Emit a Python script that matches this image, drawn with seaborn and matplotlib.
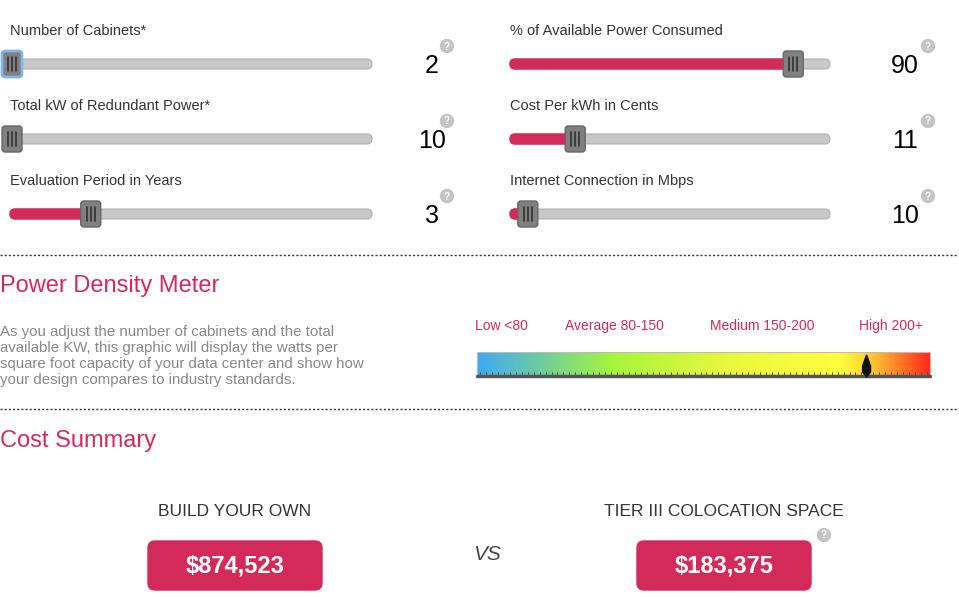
import numpy as np
import matplotlib
matplotlib.use("Agg")
import matplotlib.pyplot as plt
import seaborn as sns
from matplotlib.patches import FancyBboxPatch
from matplotlib.colors import LinearSegmentedColormap

sns.set_style("white")
plt.rcParams["font.family"] = "Liberation Sans"

# ---- data ------------------------------------------------------------------
slider_labels = ["Number of Cabinets*", "Total kW of Redundant Power*",
                 "Evaluation Period in Years", "% of Available Power Consumed",
                 "Cost Per kWh in Cents", "Internet Connection in Mbps"]
slider_values = ["2", "10", "3", "90", "11", "10"]
slider_fill = [0.0, 0.0, 0.22, 0.89, 0.20, 0.05]
meter_labels = ["Low <80", "Average 80-150", "Medium 150-200", "High 200+"]
meter_position = 0.86
cost_titles = ["BUILD YOUR OWN", "TIER III COLOCATION SPACE"]
cost_values = ["$874,523", "$183,375"]

RED = "#d42a5a"
fig = plt.figure(figsize=(9.59, 5.97), dpi=100)
ax = fig.add_axes([0, 0, 1, 1])
ax.set_xlim(0, 959); ax.set_ylim(597, 0); ax.axis("off")


def help_icon(x, y):
    ax.add_patch(plt.Circle((x, y), 6.5, color="#c4c4c4"))
    ax.text(x, y + 0.5, "?", color="white", fontsize=7, fontweight="bold",
            ha="center", va="center")


# ---- sliders ---------------------------------------------------------------
for i, (lab, val, f) in enumerate(zip(slider_labels, slider_values, slider_fill)):
    col, row = divmod(i, 3)
    x0 = 10 + col * 500
    y = 64 + row * 75
    w = 362 if col == 0 else 320
    ax.text(x0, y - 33, lab, fontsize=10.5, color="#333333", va="center")
    ax.add_patch(FancyBboxPatch((x0, y - 5), w, 10, boxstyle="round,pad=0,rounding_size=5",
                                fc="#c8c8c8", ec="#b0b0b0", lw=0.8))
    hx = x0 + 2 + f * (w - 4)
    if f > 0:
        ax.add_patch(FancyBboxPatch((x0, y - 5), hx - x0, 10,
                                    boxstyle="round,pad=0,rounding_size=5", fc=RED, ec=RED))
    ec = "#7fb8f0" if i == 0 else "#666666"
    ax.add_patch(FancyBboxPatch((hx - 10, y - 13), 20, 26, boxstyle="round,pad=0,rounding_size=3",
                                fc="#808080", ec=ec, lw=2 if i == 0 else 1))
    for dx in (-4, 0, 4):
        ax.plot([hx + dx, hx + dx], [y - 7, y + 7], color="#333333", lw=1.2)
    vx = 432 if col == 0 else 905
    ax.text(vx, y + 2, val, fontsize=18, color="black", ha="center", va="center")
    help_icon(447 if col == 0 else 928, y - 18)

# ---- dashed separators -----------------------------------------------------
for yy in (255, 409):
    ax.plot([0, 959], [yy, yy], color="#333333", lw=1, ls=(0, (1.5, 1.5)))

# ---- power density meter ---------------------------------------------------
ax.text(0, 286, "Power Density Meter", fontsize=17, color=RED, va="center")
ax.text(0, 356, "As you adjust the number of cabinets and the total\n"
        "available KW, this graphic will display the watts per\n"
        "square foot capacity of your data center and show how\n"
        "your design compares to industry standards.",
        fontsize=10.8, color="#888888", va="center", linespacing=1.2)
for lab, lx in zip(meter_labels, [475, 565, 710, 859]):
    ax.text(lx, 326, lab, fontsize=10, color=RED, va="center")
cmap = LinearSegmentedColormap.from_list(
    "meter", [(0, "#3fa9f5"), (0.3, "#a6f53c"), (0.55, "#e8f83c"),
              (0.8, "#ffff3c"), (0.87, "#ffcc33"), (1, "#ff2a1a")])
mx0, mx1 = 477, 930
ax.imshow(np.linspace(0, 1, 256)[None, :], cmap=cmap, aspect="auto",
          extent=(mx0, mx1, 375, 352), zorder=1)
ax.add_patch(plt.Rectangle((mx0, 352), mx1 - mx0, 23, fill=False, ec="#bbbbbb", lw=0.8))
ax.plot([mx0, mx1], [376, 376], color="#555555", lw=2.5)
for tx in np.linspace(mx0 + 3, mx1 - 3, 76):
    ax.plot([tx, tx], [372, 375], color="#555555", lw=0.7)
px = mx0 + meter_position * (mx1 - mx0)
ax.fill([px - 4, px, px + 4, px + 4, px, px - 4], [366, 355, 366, 372, 377, 372],
        color="#111111", zorder=3)

# ---- cost summary ----------------------------------------------------------
ax.text(0, 441, "Cost Summary", fontsize=17, color=RED, va="center")
for t, v, cx in zip(cost_titles, cost_values, [235, 724]):
    ax.text(cx, 512, t, fontsize=12.5, color="#333333", ha="center", va="center")
    ax.add_patch(FancyBboxPatch((cx - 87, 541), 174, 49, boxstyle="round,pad=0,rounding_size=7",
                                fc=RED, ec=RED))
    ax.text(cx, 566, v, fontsize=17, color="white", fontweight="bold",
            ha="center", va="center")
ax.text(487, 554, "VS", fontsize=15, color="#444444", style="italic",
        ha="center", va="center")
help_icon(824, 535)

fig.savefig("out.png", dpi=100)
